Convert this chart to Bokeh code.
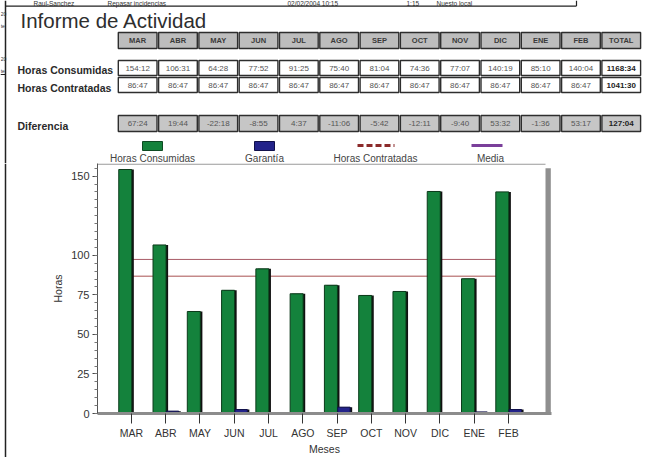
from bokeh.plotting import figure
from bokeh.models import Range1d, FixedTicker
from bokeh.layouts import column, row
from bokeh.embed import file_html
from bokeh.resources import INLINE
from bokeh.core.properties import value
import numpy as np

# ---------------- data ----------------
months = ["MAR", "ABR", "MAY", "JUN", "JUL", "AGO", "SEP", "OCT", "NOV", "DIC", "ENE", "FEB"]
total_label = "TOTAL"
consumidas = ["154:12", "106:31", "64:28", "77:52", "91:25", "75:40", "81:04", "74:36", "77:07", "140:19", "85:10", "140:04"]
consumidas_total = "1168:34"
contratadas = ["86:47"] * 12
contratadas_total = "1041:30"
diferencia = ["67:24", "19:44", "-22:18", "-8:55", "4:37", "-11:06", "-5:42", "-12:11", "-9:40", "53:32", "-1:36", "53:17"]
diferencia_total = "127:04"
garantia = [0, 1.5, 0, 2.5, 0, 0, 4.0, 0, 0, 0, 1.0, 2.5]
row_labels = ["Horas Consumidas", "Horas Contratadas", "Diferencia"]
legend_labels = ["Horas Consumidas", "Garantía", "Horas Contratadas", "Media"]
y_ticks = [0, 25, 50, 75, 100, 150]
title_text = "Informe de Actividad"
x_title = "Meses"
y_title = "Horas"
header_strip = ["Raul-Sanchez", "Repasar incidencias", "02/02/2004 10:15", "1:15", "Nuesto local"]
margin_bits = ["20", "te", "20", "te"]


def to_hours(s):
    neg = s.startswith("-")
    h, m = s.lstrip("-").split(":")
    v = int(h) + int(m) / 60.0
    return -v if neg else v


cons_h = [to_hours(s) for s in consumidas]
contr_h = [to_hours(s) for s in contratadas]
media_h = float(np.mean(cons_h))

FONT = value("Liberation Sans")
W = 654
TOP_H = 163
CH_H = 457 - TOP_H
STRIP_W = 8


def blank(width, height):
    f = figure(width=width, height=height, x_range=Range1d(0, width), y_range=Range1d(height, 0),
               output_backend="svg", toolbar_location=None, min_border=0,
               x_axis_type=None, y_axis_type=None)
    f.grid.visible = False
    f.outline_line_color = None
    f.frame_align = False
    return f


# ---------------- top figure: header strip, title, table, legend ----------------
top = blank(W, TOP_H)

# report line at the very top
top.text(x=[33, 107, 287, 406, 436], y=[2.9] * 5, text=header_strip, text_font=FONT,
         text_font_size="6.5px", text_color="#333333", text_baseline="middle")
top.segment(x0=[5], y0=[5.6], x1=[576], y1=[5.6], line_color="#222222", line_width=1.2)
top.segment(x0=[576], y0=[0], x1=[576], y1=[5.6], line_color="#222222", line_width=1.2)
top.segment(x0=[5], y0=[0], x1=[5], y1=[TOP_H], line_color="#222222", line_width=1.5)
top.text(x=[0.2] * 4, y=[13, 25, 58, 70], text=margin_bits, text_font=FONT, text_font_size="5px",
         text_color="#333333", text_align="left", text_baseline="middle")
top.segment(x0=[0], y0=[74], x1=[5], y1=[74], line_color="#222222", line_width=1)

top.text(x=[20], y=[20], text=[title_text], text_font=FONT, text_font_size="20.5px",
         text_color="#2e2e2e", text_baseline="middle", text_align="left")

col_x0, col_w = 117, 40.3
cols = months + [total_label]
xs = [col_x0 + (i + 0.5) * col_w for i in range(len(cols))]

rows = [
    (40, 16, "#bdbdbd", cols, True),
    (67.5, 15, "white", consumidas + [consumidas_total], False),
    (84.5, 15, "white", contratadas + [contratadas_total], False),
    (123, 16, "#c6c6c6", diferencia + [diferencia_total], False),
]
for yc, h, fill, texts, header in rows:
    top.rect(x=xs, y=[yc] * len(xs), width=col_w - 1.6, height=h, fill_color=fill,
             line_color="#2e2e2e", line_width=1.4)
    if header:
        top.text(x=xs, y=[yc] * len(xs), text=texts, text_font=FONT, text_font_size="7.5px",
                 text_font_style="bold", text_color="#3a3a3a", text_align="center",
                 text_baseline="middle")
    else:
        top.text(x=xs[:-1], y=[yc] * (len(xs) - 1), text=texts[:-1], text_font=FONT,
                 text_font_size="8px", text_color="#555555", text_align="center",
                 text_baseline="middle")
        top.text(x=xs[-1:], y=[yc], text=texts[-1:], text_font=FONT, text_font_size="8px",
                 text_font_style="bold", text_color="#222222", text_align="center",
                 text_baseline="middle")

top.text(x=[17, 17, 17], y=[69, 87.5, 125], text=row_labels, text_font=FONT, text_font_size="10.5px",
         text_font_style="bold", text_color="#2a2a2a", text_baseline="middle", text_align="left")

# legend
top.rect(x=[152], y=[145.5], width=20, height=9, fill_color="#14823c", line_color="#0d4a22")
top.rect(x=[264], y=[145.5], width=20, height=9, fill_color="#23238a", line_color="#10104a")
top.segment(x0=[357], y0=[145], x1=[394], y1=[145], line_color="#8b2a2a", line_width=3,
            line_dash="6 3")
top.segment(x0=[471], y0=[145], x1=[502], y1=[145], line_color="#7a3f9a", line_width=3)
top.text(x=[152, 264, 375, 490], y=[158] * 4, text=legend_labels, text_font=FONT,
         text_font_size="10px", text_color="#444444", text_align="center", text_baseline="middle")

# ---------------- left border strip beside the chart ----------------
strip = blank(STRIP_W, CH_H)
strip.segment(x0=[5], y0=[0], x1=[5], y1=[CH_H], line_color="#222222", line_width=1.5)

# ---------------- chart figure ----------------
idx = np.arange(len(months))
x_start, x_box, x_end = -0.99, 12.08, 12.255
y_top = 158
ch = figure(width=W - STRIP_W, height=CH_H, x_range=Range1d(x_start, x_end), y_range=Range1d(0, y_top),
            output_backend="svg", toolbar_location=None,
            min_border_left=97 - STRIP_W, min_border_right=W - 551, min_border_top=0, min_border_bottom=40)
ch.frame_align = False
ch.grid.visible = False
ch.outline_line_color = None

# chart box: thin top edge and a grey shadow on the right
ch.segment(x0=[x_start], y0=[y_top - 0.4], x1=[x_box], y1=[y_top - 0.4], line_color="#9a9a9a", line_width=1.2)
ch.quad(left=[x_box], right=[x_end - 0.02], bottom=[0], top=[y_top - 3], fill_color="#8f8f8f", line_color=None)

ch.segment(x0=[idx[0]], y0=[contr_h[0]], x1=[idx[-1]], y1=[contr_h[0]], line_color="#a85050", line_width=1)
ch.segment(x0=[idx[0]], y0=[media_h], x1=[idx[-1]], y1=[media_h], line_color="#a85a66", line_width=1)

ch.vbar(x=idx - 0.12, top=cons_h, width=0.38, fill_color="#111111", line_color=None)
ch.vbar(x=idx - 0.18, top=cons_h, width=0.38, fill_color="#14823c", line_color="#0b3a1a", line_width=1)
ch.vbar(x=idx + 0.26, top=garantia, width=0.36, fill_color="#111111", line_color=None)
ch.vbar(x=idx + 0.20, top=garantia, width=0.36, fill_color="#23238a", line_color="#10104a", line_width=1)

ch.xaxis.ticker = FixedTicker(ticks=list(idx))
ch.xaxis.major_label_overrides = {int(i): m for i, m in zip(idx, months)}
ch.xaxis.axis_line_color = "#8c8c8c"
ch.xaxis.axis_line_width = 3
ch.xaxis.major_tick_in = 0
ch.xaxis.major_tick_out = 10
ch.xaxis.major_tick_line_color = "#333333"
ch.xaxis.minor_tick_line_color = None
ch.xaxis.major_label_standoff = 3
ch.xaxis.major_label_text_font = "Liberation Sans"
ch.xaxis.major_label_text_font_size = "10.5px"
ch.xaxis.major_label_text_color = "#333333"
ch.xaxis.axis_label = x_title
ch.xaxis.axis_label_standoff = 1
ch.xaxis.axis_label_text_font = "Liberation Sans"
ch.xaxis.axis_label_text_font_size = "10.5px"
ch.xaxis.axis_label_text_font_style = "normal"
ch.xaxis.axis_label_text_color = "#333333"

ch.yaxis.ticker = FixedTicker(ticks=y_ticks, minor_ticks=list(range(0, y_top, 5)))
ch.yaxis.axis_line_color = "#555555"
ch.yaxis.major_tick_in = 0
ch.yaxis.major_tick_out = 5
ch.yaxis.minor_tick_in = 0
ch.yaxis.minor_tick_out = 3
ch.yaxis.major_tick_line_color = "#444444"
ch.yaxis.minor_tick_line_color = "#777777"
ch.yaxis.major_label_standoff = 3
ch.yaxis.major_label_text_font = "Liberation Sans"
ch.yaxis.major_label_text_font_size = "11px"
ch.yaxis.major_label_text_color = "#333333"
ch.yaxis.axis_label = y_title
ch.yaxis.axis_label_standoff = 4
ch.yaxis.axis_label_text_font = "Liberation Sans"
ch.yaxis.axis_label_text_font_size = "10.5px"
ch.yaxis.axis_label_text_font_style = "normal"
ch.yaxis.axis_label_text_color = "#333333"

page = column(top, row(strip, ch, spacing=0), spacing=0)
open("out.html", "w").write(file_html(page, INLINE))
